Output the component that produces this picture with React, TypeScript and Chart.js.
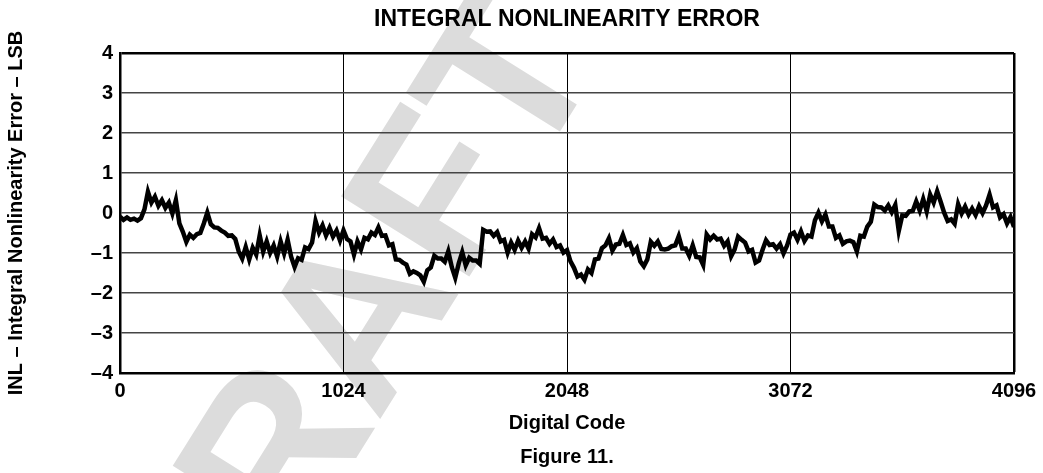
import React, { useEffect, useRef } from "react";
import { Chart, registerables } from "chart.js";

Chart.register(...registerables);

const TITLE = "INTEGRAL NONLINEARITY ERROR";
const X_TITLE = "Digital Code";
const Y_TITLE = "INL – Integral Nonlinearity Error – LSB";
const CAPTION = "Figure 11.";
const WATERMARK = "DRAFT";

const X_TICKS = [0, 1024, 2048, 3072, 4096];
const Y_TICKS = [-4, -3, -2, -1, 0, 1, 2, 3, 4];

const CODES = [
  0, 16, 32, 48, 64, 80, 96, 112, 128, 144, 160, 176, 192, 208, 224, 240,
  256, 272, 288, 304, 320, 336, 352, 368, 384, 400, 416, 432, 448, 464, 480, 496,
  512, 528, 544, 560, 576, 592, 608, 624, 640, 656, 672, 688, 704, 720, 736, 752,
  768, 784, 800, 816, 832, 848, 864, 880, 896, 912, 928, 944, 960, 976, 992, 1008,
  1024, 1040, 1056, 1072, 1088, 1104, 1120, 1136, 1152, 1168, 1184, 1200, 1216, 1232, 1248, 1264,
  1280, 1296, 1312, 1328, 1344, 1360, 1376, 1392, 1408, 1424, 1440, 1456, 1472, 1488, 1504, 1520,
  1536, 1552, 1568, 1584, 1600, 1616, 1632, 1648, 1664, 1680, 1696, 1712, 1728, 1744, 1760, 1776,
  1792, 1808, 1824, 1840, 1856, 1872, 1888, 1904, 1920, 1936, 1952, 1968, 1984, 2000, 2016, 2032,
  2048, 2064, 2080, 2096, 2112, 2128, 2144, 2160, 2176, 2192, 2208, 2224, 2240, 2256, 2272, 2288,
  2304, 2320, 2336, 2352, 2368, 2384, 2400, 2416, 2432, 2448, 2464, 2480, 2496, 2512, 2528, 2544,
  2560, 2576, 2592, 2608, 2624, 2640, 2656, 2672, 2688, 2704, 2720, 2736, 2752, 2768, 2784, 2800,
  2816, 2832, 2848, 2864, 2880, 2896, 2912, 2928, 2944, 2960, 2976, 2992, 3008, 3024, 3040, 3056,
  3072, 3088, 3104, 3120, 3136, 3152, 3168, 3184, 3200, 3216, 3232, 3248, 3264, 3280, 3296, 3312,
  3328, 3344, 3360, 3376, 3392, 3408, 3424, 3440, 3456, 3472, 3488, 3504, 3520, 3536, 3552, 3568,
  3584, 3600, 3616, 3632, 3648, 3664, 3680, 3696, 3712, 3728, 3744, 3760, 3776, 3792, 3808, 3824,
  3840, 3856, 3872, 3888, 3904, 3920, 3936, 3952, 3968, 3984, 4000, 4016, 4032, 4048, 4064, 4080,
  4096,
];

const INL = [
  -0.09, -0.17, -0.11, -0.17, -0.14, -0.19, -0.13, 0.09, 0.53, 0.26, 0.41, 0.18, 0.32, 0.13, 0.26, -0.01,
  0.32, -0.26, -0.47, -0.72, -0.54, -0.62, -0.53, -0.5, -0.26, 0.01, -0.28, -0.36, -0.37, -0.44, -0.49, -0.57,
  -0.56, -0.65, -0.96, -1.14, -0.85, -1.16, -0.87, -1.04, -0.56, -0.97, -0.71, -1.0, -0.81, -1.09, -0.71, -1.01,
  -0.67, -1.09, -1.35, -1.13, -1.17, -0.86, -0.9, -0.74, -0.2, -0.49, -0.31, -0.56, -0.37, -0.59, -0.44, -0.69,
  -0.43, -0.65, -0.71, -1.04, -0.71, -0.91, -0.62, -0.66, -0.49, -0.55, -0.36, -0.57, -0.56, -0.81, -0.78, -1.16,
  -1.17, -1.24, -1.29, -1.52, -1.46, -1.5, -1.56, -1.72, -1.43, -1.36, -1.07, -1.14, -1.14, -1.22, -0.96, -1.35,
  -1.62, -1.26, -0.98, -1.31, -1.12, -1.19, -1.19, -1.27, -0.42, -0.47, -0.46, -0.57, -0.48, -0.71, -0.67, -0.99,
  -0.74, -0.92, -0.69, -0.87, -0.71, -0.89, -0.53, -0.61, -0.38, -0.64, -0.62, -0.77, -0.66, -0.85, -0.81, -0.99,
  -0.93, -1.21, -1.37, -1.59, -1.54, -1.67, -1.41, -1.5, -1.16, -1.14, -0.88, -0.81, -0.63, -0.94, -0.79, -0.77,
  -0.55, -0.8, -0.76, -0.99, -0.88, -1.21, -1.33, -1.16, -0.72, -0.82, -0.71, -0.9, -0.91, -0.89, -0.83, -0.81,
  -0.58, -0.89, -0.89, -1.07, -0.81, -1.1, -1.11, -1.3, -0.54, -0.66, -0.57, -0.66, -0.64, -0.82, -0.71, -1.08,
  -0.91, -0.59, -0.67, -0.74, -0.96, -0.92, -1.24, -1.19, -0.92, -0.68, -0.8, -0.78, -0.89, -0.78, -1.01, -0.82,
  -0.54, -0.49, -0.67, -0.46, -0.7, -0.56, -0.59, -0.18, 0.01, -0.21, -0.04, -0.34, -0.34, -0.62, -0.56, -0.77,
  -0.71, -0.69, -0.73, -0.96, -0.57, -0.59, -0.34, -0.22, 0.21, 0.15, 0.14, 0.06, 0.19, 0.02, 0.2, -0.45,
  -0.06, -0.07, 0.04, 0.05, 0.29, 0.06, 0.35, 0.04, 0.46, 0.26, 0.54, 0.28, 0.01, -0.2, -0.16, -0.27,
  0.22, -0.01, 0.16, -0.04, 0.11, -0.05, 0.17, 0.0, 0.19, 0.46, 0.14, 0.19, -0.11, -0.03, -0.26, -0.1,
  -0.35,
];

const FONT = "'Liberation Sans', Arial, sans-serif";

const watermarkPlugin = {
  id: "watermark",
  beforeDraw(chart: any) {
    const { ctx, width, height } = chart;
    ctx.save();
    ctx.fillStyle = "#ffffff";
    ctx.fillRect(0, 0, width, height);
    ctx.translate(355, 345);
    ctx.rotate((-58 * Math.PI) / 180);
    ctx.fillStyle = "#dcdcdc";
    ctx.font = `bold 220px ${FONT}`;
    ctx.textAlign = "center";
    ctx.textBaseline = "middle";
    ctx.fillText(WATERMARK, 0, 0);
    ctx.restore();
  },
};

export default function App() {
  const canvasRef = useRef<HTMLCanvasElement | null>(null);

  useEffect(() => {
    if (!canvasRef.current) return;
    const points = CODES.map((c, i) => ({ x: c, y: INL[i] }));
    const chart = new Chart(canvasRef.current, {
      type: "line",
      data: {
        datasets: [
          {
            label: "INL",
            data: points,
            borderColor: "#000000",
            borderWidth: 4.5,
            pointRadius: 0,
            tension: 0,
            borderJoinStyle: "miter",
          },
        ],
      },
      options: {
        animation: false,
        responsive: true,
        maintainAspectRatio: false,
        layout: { padding: { left: 0, right: 29, top: 0, bottom: 0 } },
        plugins: {
          legend: { display: false },
          tooltip: { enabled: false },
          title: {
            display: true,
            text: TITLE,
            color: "#000",
            fullSize: false,
            font: { family: FONT, size: 23, weight: "bold", lineHeight: 1.2 },
            padding: { top: 6, bottom: 19.4 },
          },
          subtitle: {
            display: true,
            position: "bottom",
            text: CAPTION,
            color: "#000",
            fullSize: false,
            font: { family: FONT, size: 20, weight: "bold", lineHeight: 1.2 },
            padding: { top: 8, bottom: 4 },
          },
        },
        scales: {
          x: {
            type: "linear",
            min: 0,
            max: 4096,
            afterBuildTicks: (scale: any) => {
              scale.ticks = X_TICKS.map((v) => ({ value: v }));
            },
            ticks: {
              color: "#000",
              padding: 6,
              font: { family: FONT, size: 20, weight: "bold", lineHeight: 1.2 },
              callback: (v: any) => String(v),
            },
            grid: {
              drawTicks: false,
              color: "#000",
              lineWidth: (ctx: any) => (ctx.tick && ctx.tick.value === 4096 ? 2.5 : 1),
            },
            border: { display: true, color: "#000", width: 2.5 },
            title: {
              display: true,
              text: X_TITLE,
              color: "#000",
              font: { family: FONT, size: 20, weight: "bold", lineHeight: 1.2 },
              padding: { top: 2, bottom: 2 },
            },
          },
          y: {
            type: "linear",
            min: -4,
            max: 4,
            afterBuildTicks: (scale: any) => {
              scale.ticks = Y_TICKS.map((v) => ({ value: v }));
            },
            afterFit: (scale: any) => {
              scale.width = 120;
            },
            ticks: {
              color: "#000",
              padding: 7,
              font: { family: FONT, size: 20, weight: "bold", lineHeight: 1.2 },
              callback: (v: any) => (Number(v) < 0 ? "\u2013" + Math.abs(Number(v)) : String(v)),
            },
            grid: {
              drawTicks: false,
              color: (ctx: any) => (ctx.tick && ctx.tick.value === 4 ? "#000" : "#444"),
              lineWidth: (ctx: any) => (ctx.tick && ctx.tick.value === 4 ? 2.5 : 1.5),
            },
            border: { display: true, color: "#000", width: 2.5 },
            title: {
              display: true,
              text: Y_TITLE,
              color: "#000",
              font: { family: FONT, size: 20, weight: "bold", lineHeight: 1.2 },
              padding: { top: 4, bottom: 4 },
            },
          },
        },
      },
      plugins: [watermarkPlugin],
    });
    return () => chart.destroy();
  }, []);

  return (
    <div style={{ position: "absolute", left: 0, top: 0, width: 1043, height: 473 }}>
      <canvas ref={canvasRef} />
    </div>
  );
}
